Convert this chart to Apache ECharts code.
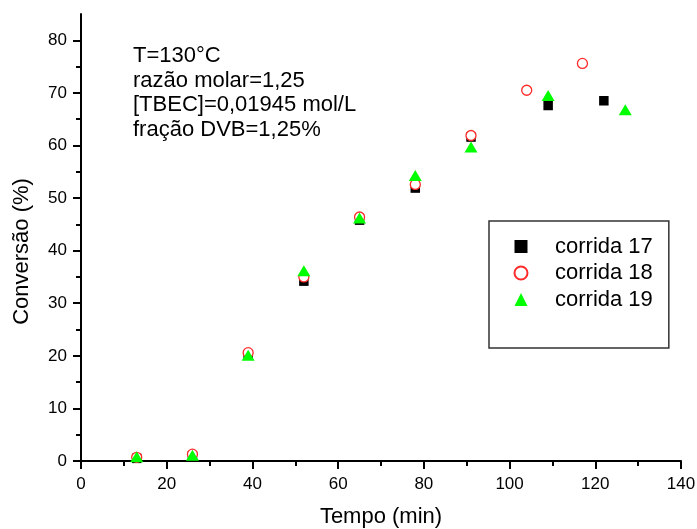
<!DOCTYPE html>
<html><head><meta charset="utf-8">
<script src="https://cdn.jsdelivr.net/npm/echarts@6/dist/echarts.min.js"></script>
<style>html,body{margin:0;padding:0;background:#fff;overflow:hidden}#c{width:697px;height:529px}</style>
</head><body><div id="c"></div>
<script>
const tempo17 = [13, 26, 39, 52, 65, 78, 91, 109, 122];
const conv17  = [0.5, 1.0, 20.2, 34.2, 45.8, 51.9, 61.6, 67.6, 68.5];
const tempo18 = [13, 26, 39, 52, 65, 78, 91, 104, 117];
const conv18  = [0.7, 1.3, 20.6, 35.0, 46.4, 52.6, 61.9, 70.5, 75.6];
const tempo19 = [13, 26, 39, 52, 65, 78, 91, 109, 127];
const conv19  = [0.8, 1.1, 20.1, 36.2, 46.2, 54.3, 59.7, 69.5, 66.8];
const seriesNames = ['corrida 17', 'corrida 18', 'corrida 19'];
const yMajorTicks = [0, 10, 20, 30, 40, 50, 60, 70, 80];
const yMinorTicks = [5, 15, 25, 35, 45, 55, 65, 75];
const annotation = ['T=130°C', 'razão molar=1,25', '[TBEC]=0,01945 mol/L', 'fração DVB=1,25%'];
const xTitle = 'Tempo (min)';
const yTitle = 'Conversão (%)';

const FONT = '"Liberation Sans", Arial, sans-serif';
const zip = (xs, ys) => xs.map((x, i) => [x, ys[i]]);

const chart = echarts.init(document.getElementById('c'), null, {renderer: 'canvas'});
const axisLine = {show: true, lineStyle: {color: '#000', width: 2}};
chart.setOption({
  animation: false,
  backgroundColor: '#fff',
  grid: {left: 81, right: 16, top: 14, bottom: 68, containLabel: false, outerBoundsMode: 'none'},
  xAxis: {
    type: 'value', min: 0, max: 140, interval: 20,
    axisLine: axisLine,
    axisTick: {show: true, length: 8, lineStyle: {color: '#000', width: 2}},
    minorTick: {show: true, splitNumber: 2, length: 5, lineStyle: {color: '#000', width: 2}},
    splitLine: {show: false},
    axisLabel: {color: '#000', fontSize: 17, fontFamily: FONT, margin: 14.5},
    name: xTitle, nameLocation: 'middle', nameGap: 45,
    nameTextStyle: {color: '#000', fontSize: 22, fontFamily: FONT}
  },
  yAxis: [{
    type: 'value', min: 0, max: 85, interval: 10,
    axisLine: axisLine,
    axisTick: {show: true, length: 8, customValues: yMajorTicks, lineStyle: {color: '#000', width: 2}},
    splitLine: {show: false},
    axisLabel: {color: '#000', fontSize: 17, fontFamily: FONT, margin: 14, customValues: yMajorTicks},
    name: yTitle, nameLocation: 'middle', nameGap: 48,
    nameTextStyle: {color: '#000', fontSize: 22, fontFamily: FONT, padding: [0, 28, 0, 0]}
  }, {
    type: 'value', min: 0, max: 85, interval: 10, position: 'left',
    axisLine: {show: false},
    axisTick: {show: true, length: 5, customValues: yMinorTicks, lineStyle: {color: '#000', width: 2}},
    splitLine: {show: false},
    axisLabel: {show: false}
  }],
  legend: {
    orient: 'vertical', left: 489, top: 221,
    padding: [14.5, 16, 37.5, 24.5],
    itemWidth: 13, itemHeight: 13, itemGap: 4.5,
    borderColor: '#333', borderWidth: 1.5,
    selectedMode: false,
    textStyle: {color: '#000', fontSize: 22, fontFamily: FONT, padding: [0, 0, 0, 22.5]},
    data: seriesNames
  },
  graphic: [{
    type: 'text', left: 133, top: 44,
    style: {text: annotation.join('\n'), font: '22px ' + FONT, lineHeight: 24.5, fill: '#000'}
  }],
  series: [
    {name: seriesNames[0], type: 'scatter', symbol: 'rect', symbolSize: 9.5,
     itemStyle: {color: '#000', opacity: 1}, data: zip(tempo17, conv17)},
    {name: seriesNames[1], type: 'scatter', symbol: 'circle', symbolSize: 10,
     itemStyle: {color: '#fff', borderColor: '#ff2a2a', borderWidth: 1.3, opacity: 1}, data: zip(tempo18, conv18)},
    {name: seriesNames[2], type: 'scatter', symbol: 'triangle', symbolSize: [13, 11],
     itemStyle: {color: '#00ff00', opacity: 1}, data: zip(tempo19, conv19)}
  ]
});
</script>
</body></html>
